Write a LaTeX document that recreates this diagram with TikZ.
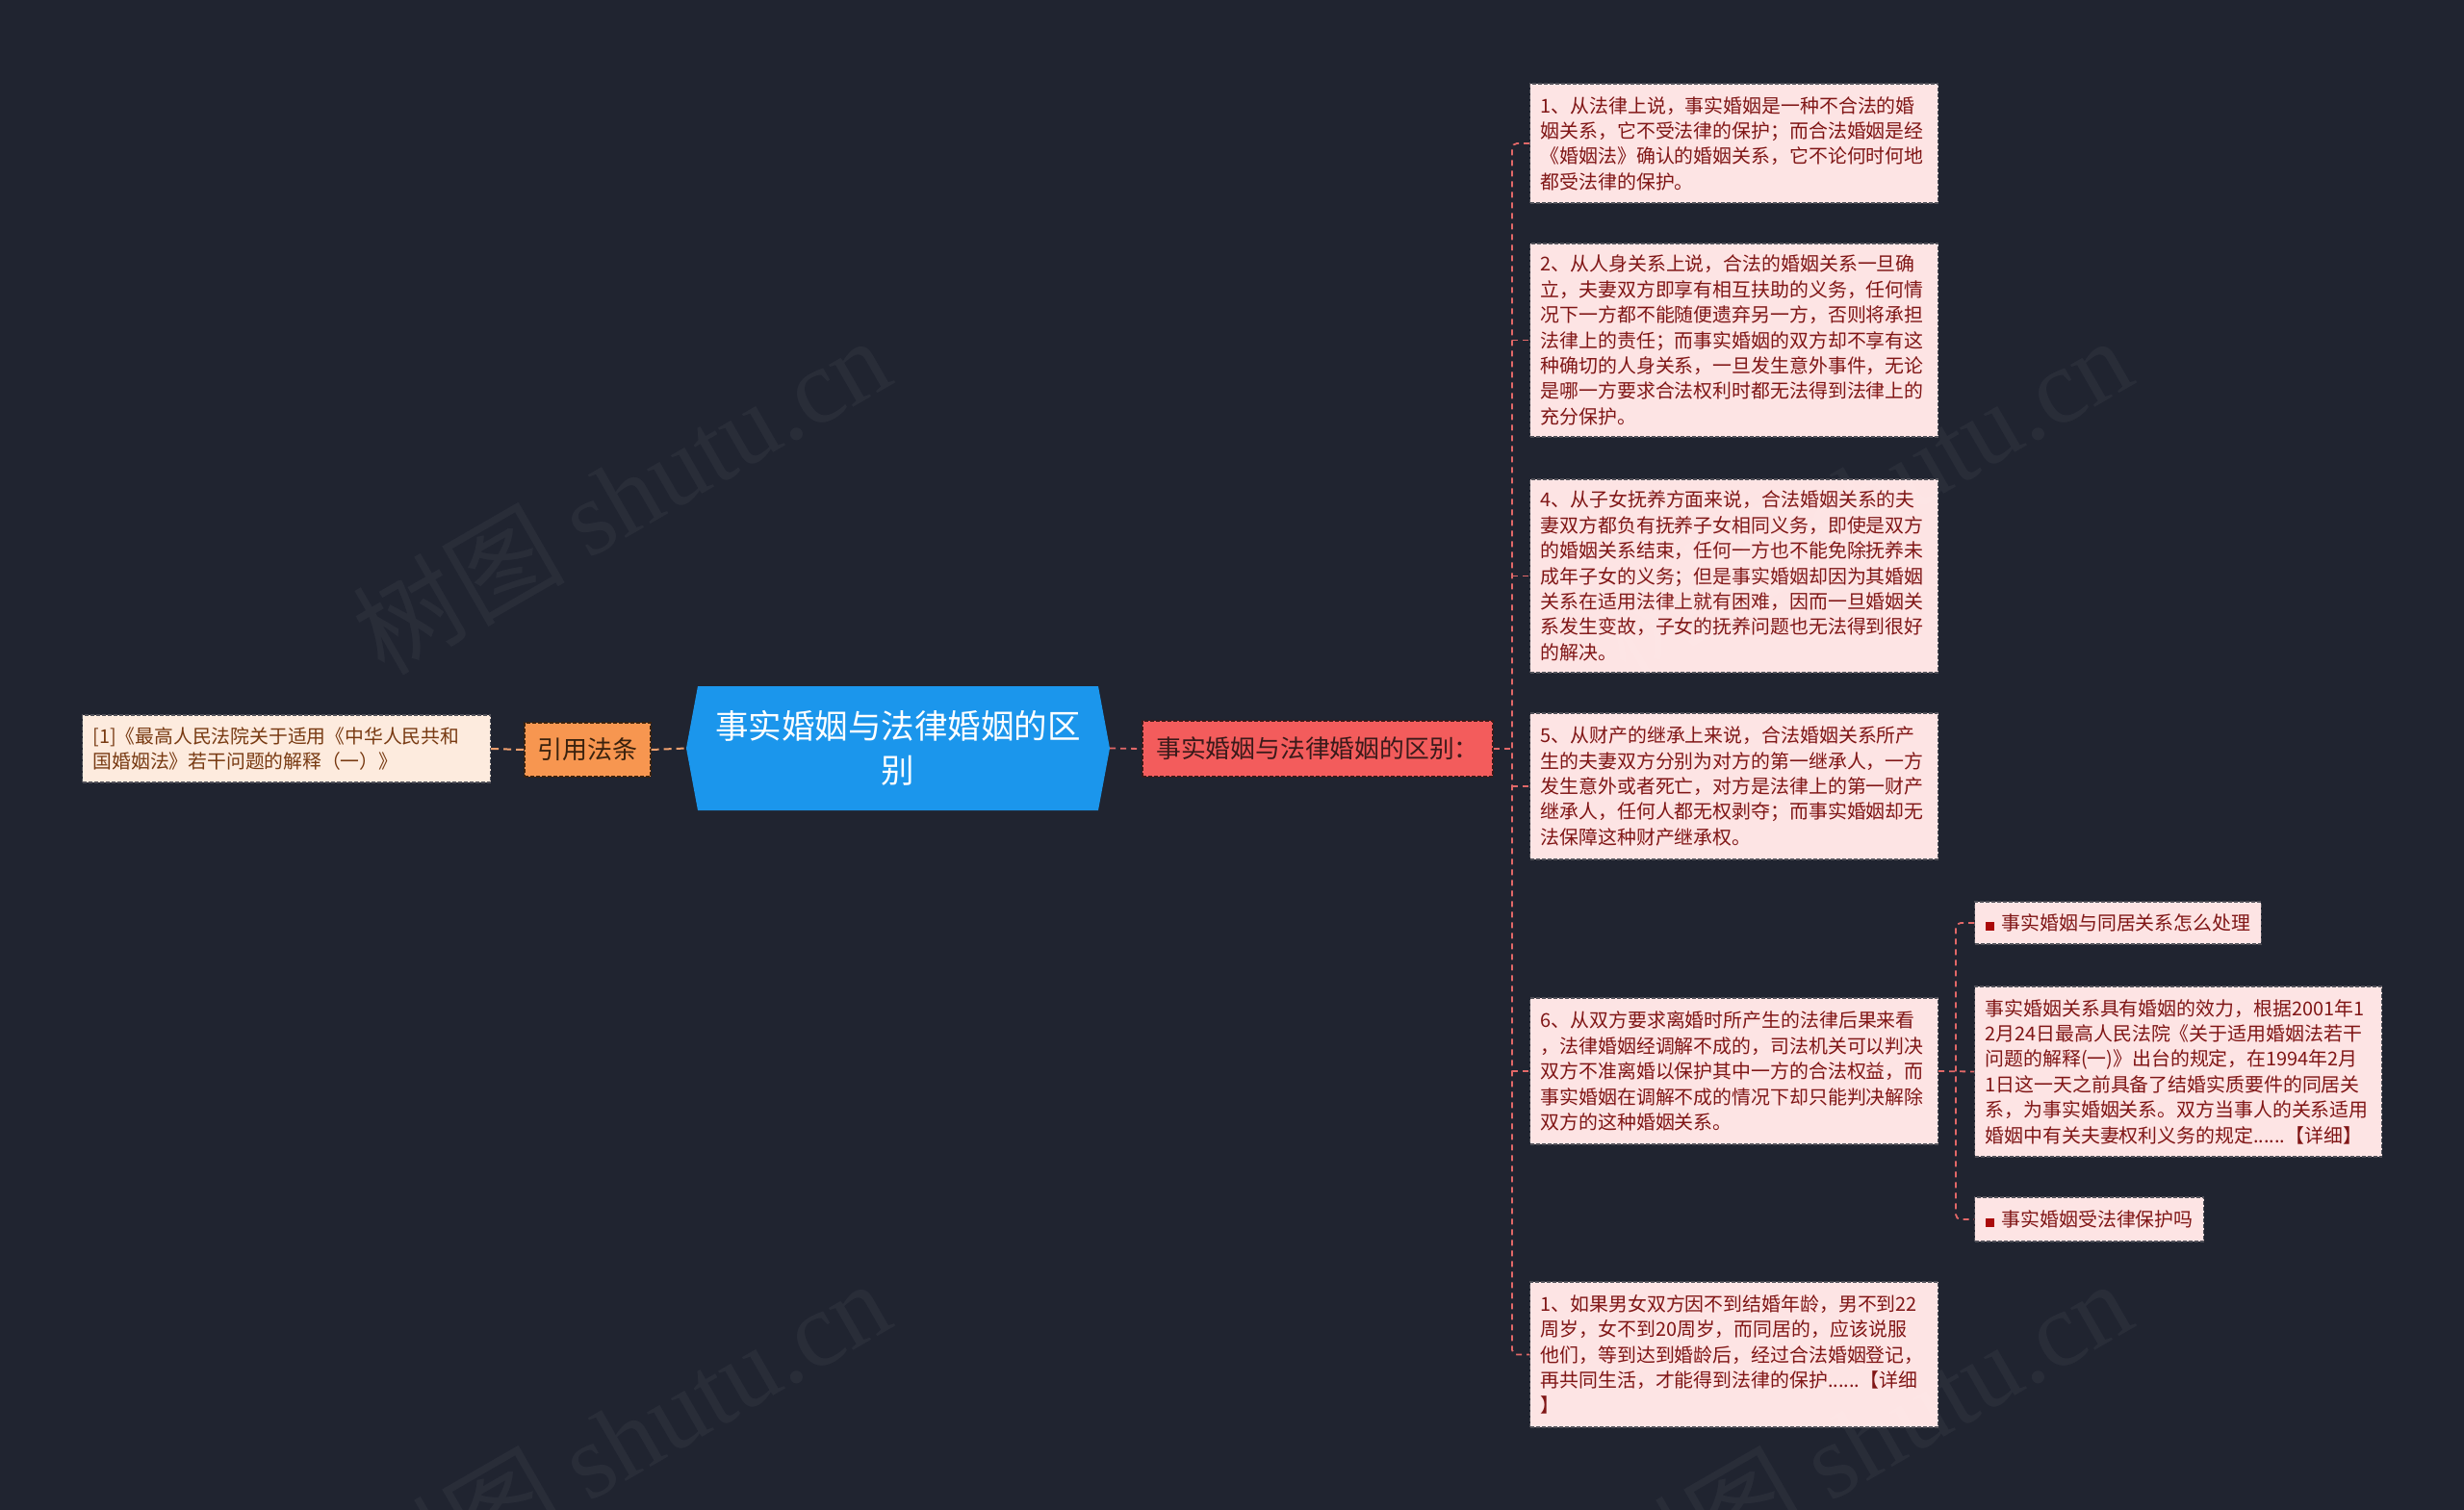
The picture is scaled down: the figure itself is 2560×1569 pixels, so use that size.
\documentclass[tikz,border=0pt]{standalone}
\usepackage{fontspec}
\setmainfont{Noto Sans CJK SC}
\newfontfamily\wmserif{Liberation Serif}
\usetikzlibrary{calc}
\definecolor{bgc}{RGB}{32,36,48}
\definecolor{pinkfill}{RGB}{253,228,228}
\definecolor{darkred}{RGB}{128,22,22}
\definecolor{bulletred}{RGB}{170,10,10}
\definecolor{boxborder}{RGB}{80,80,88}
\definecolor{rednode}{RGB}{243,92,92}
\definecolor{rednodetext}{RGB}{58,26,26}
\definecolor{orangenode}{RGB}{247,150,80}
\definecolor{orangetext}{RGB}{58,34,14}
\definecolor{notefill}{RGB}{253,235,222}
\definecolor{notetext}{RGB}{120,58,18}
\definecolor{centralblue}{RGB}{27,150,236}
\definecolor{rline}{RGB}{226,104,104}
\definecolor{lline}{RGB}{240,160,110}
\tikzset{
  pbox/.style={draw=boxborder, line width=1.2pt, dash pattern=on 4pt off 2pt,
    fill=pinkfill, text=darkred, font=\fontsize{19.9}{26.4}\selectfont,
    align=left, anchor=west, inner xsep=11pt, inner ysep=0pt},
  sbox/.style={pbox},
  rconn/.style={draw=rline, line width=1.8pt, dash pattern=on 6pt off 5pt},
  lconn/.style={draw=lline, line width=2pt, dash pattern=on 8pt off 5pt},
  wm/.style={text=white, opacity=0.045, rotate=30, font=\fontsize{110}{120}\selectfont}
}
\begin{document}
\begin{tikzpicture}[x=1pt,y=-1pt]
\useasboundingbox[fill=bgc] (0,0) rectangle (2560,1569);

% central node
\fill[centralblue] (725,713) -- (1141,713) -- (1153,777.5) -- (1141,842) -- (725,842) -- (713,777.5) -- cycle;
\node[minimum width=440, minimum height=129, inner sep=0pt, text=white,
  font=\fontsize{34.5}{46}\selectfont, align=center] (cen) at (933,777.5)
  {事实婚姻与法律婚姻的区\\别};

% left side
\node[draw=orangetext, line width=1.2pt, dash pattern=on 4pt off 2pt, fill=orangenode,
  text=orangetext, font=\fontsize{26}{30}\selectfont, minimum width=131, minimum height=56,
  inner sep=0pt] (ref) at (610.5,779) {引用法条};
\node[draw=boxborder, line width=1.2pt, dash pattern=on 4pt off 2pt, fill=notefill,
  text=notetext, font=\fontsize{19.8}{26}\selectfont, align=left, text width=402,
  inner xsep=11pt, inner ysep=0pt, minimum height=70, anchor=west] (note) at (85,778)
  {[1]《最高人民法院关于适用《中华人民共和\\国婚姻法》若干问题的解释（一）》};

% red node
\node[draw=rednodetext, line width=1.2pt, dash pattern=on 4pt off 2pt, fill=rednode,
  text=rednodetext, font=\fontsize{25.8}{30}\selectfont, minimum width=364, minimum height=58,
  inner sep=0pt] (red) at (1369,778) {事实婚姻与法律婚姻的区别：};

% right boxes
\node[pbox, text width=402, minimum height=124] (b1) at (1589,149)
  {1、从法律上说，事实婚姻是一种不合法的婚\\姻关系，它不受法律的保护；而合法婚姻是经\\《婚姻法》确认的婚姻关系，它不论何时何地\\都受法律的保护。};
\node[pbox, text width=402, minimum height=201] (b2) at (1589,353.5)
  {2、从人身关系上说，合法的婚姻关系一旦确\\立，夫妻双方即享有相互扶助的义务，任何情\\况下一方都不能随便遗弃另一方，否则将承担\\法律上的责任；而事实婚姻的双方却不享有这\\种确切的人身关系，一旦发生意外事件，无论\\是哪一方要求合法权利时都无法得到法律上的\\充分保护。};
\node[pbox, text width=402, minimum height=201] (b3) at (1589,598.5)
  {4、从子女抚养方面来说，合法婚姻关系的夫\\妻双方都负有抚养子女相同义务，即使是双方\\的婚姻关系结束，任何一方也不能免除抚养未\\成年子女的义务；但是事实婚姻却因为其婚姻\\关系在适用法律上就有困难，因而一旦婚姻关\\系发生变故，子女的抚养问题也无法得到很好\\的解决。};
\node[pbox, text width=402, minimum height=152] (b4) at (1589,817)
  {5、从财产的继承上来说，合法婚姻关系所产\\生的夫妻双方分别为对方的第一继承人，一方\\发生意外或者死亡，对方是法律上的第一财产\\继承人，任何人都无权剥夺；而事实婚姻却无\\法保障这种财产继承权。};
\node[pbox, text width=402, minimum height=152] (b5) at (1589,1113)
  {6、从双方要求离婚时所产生的法律后果来看\\，法律婚姻经调解不成的，司法机关可以判决\\双方不准离婚以保护其中一方的合法权益，而\\事实婚姻在调解不成的情况下却只能判决解除\\双方的这种婚姻关系。};
\node[pbox, text width=402, minimum height=151] (b6) at (1589,1407.5)
  {1、如果男女双方因不到结婚年龄，男不到22\\周岁，女不到20周岁，而同居的，应该说服\\他们，等到达到婚龄后，经过合法婚姻登记，\\再共同生活，才能得到法律的保护......【详细\\】};

% sub boxes
\node[sbox, minimum height=44] (s1) at (2051,959)
  {{\color{bulletred}\rule{9pt}{9pt}}\hspace{8pt}事实婚姻与同居关系怎么处理};
\node[sbox, text width=401, minimum height=177] (s2) at (2051,1113.5)
  {事实婚姻关系具有婚姻的效力，根据2001年1\\2月24日最高人民法院《关于适用婚姻法若干\\问题的解释(一)》出台的规定，在1994年2月\\1日这一天之前具备了结婚实质要件的同居关\\系，为事实婚姻关系。双方当事人的关系适用\\婚姻中有关夫妻权利义务的规定......【详细】};
\node[sbox, minimum height=46] (s3) at (2051,1267)
  {{\color{bulletred}\rule{9pt}{9pt}}\hspace{8pt}事实婚姻受法律保护吗};

% connectors left
\draw[lconn] (note.east) -- (ref.west);
\draw[lconn] (ref.east) -- (cen.west);
% connectors right
\coordinate (trunk) at (1571,778);
\draw[rconn] (cen.east) -- (red.west);
\draw[rconn] (red.east) -- (trunk);
\draw[rconn, rounded corners=5pt] (b1.west) -- (trunk |- b1.west) -- (trunk |- b6.west) -- (b6.west);
\draw[rconn] (trunk |- b2.west) -- (b2.west);
\draw[rconn] (trunk |- b3.west) -- (b3.west);
\draw[rconn] (trunk |- b4.west) -- (b4.west);
\draw[rconn] (trunk |- b5.west) -- (b5.west);
\coordinate (strunk) at (2032,1113);
\draw[rconn] (b5.east) -- (s2.west);
\draw[rconn, rounded corners=5pt] (s1.west) -- (strunk |- s1.west) -- (strunk |- s3.west) -- (s3.west);

% watermarks
\node[wm] (w1) at (645,514) {树图 {\wmserif shutu.cn}};
\node[wm] (w2) at (1935,514) {树图 {\wmserif shutu.cn}};
\node[wm] (w3) at (645,1494) {树图 {\wmserif shutu.cn}};
\node[wm] (w4) at (1935,1494) {树图 {\wmserif shutu.cn}};
\end{tikzpicture}
\end{document}
